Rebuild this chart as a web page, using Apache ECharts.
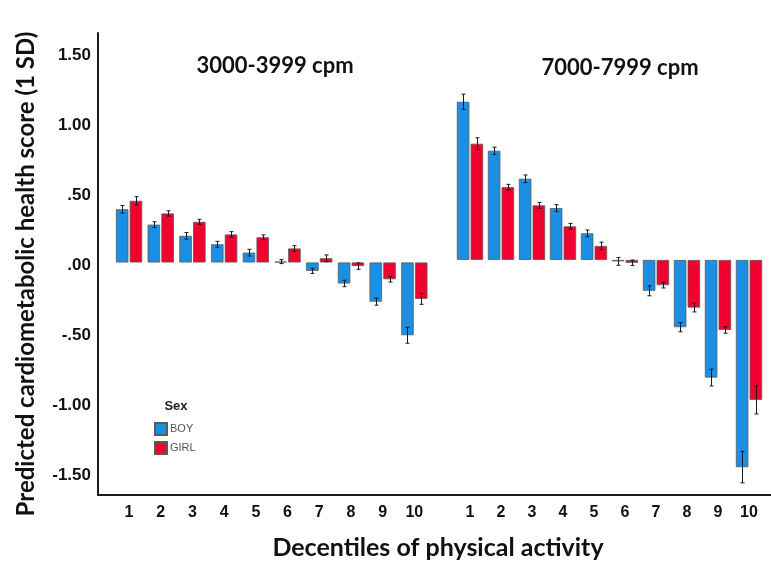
<!DOCTYPE html>
<html><head><meta charset="utf-8">
<script src="https://cdn.jsdelivr.net/npm/echarts@6/dist/echarts.min.js"></script>
<style>html,body{margin:0;padding:0;background:#fff}#c{width:771px;height:564px}</style>
</head><body><div id="c"></div>
<script>
const categories = ['1','2','3','4','5','6','7','8','9','10'];
const yTicks = [-1.5, -1, -0.5, 0, 0.5, 1, 1.5];
const lowBoy = [0.38, 0.27, 0.19, 0.13, 0.07, 0.006, -0.06, -0.15, -0.28, -0.52];
const lowGirl = [0.44, 0.35, 0.29, 0.20, 0.18, 0.10, 0.03, -0.026, -0.12, -0.26];
const lowBoyErr = [0.027, 0.021, 0.024, 0.021, 0.024, 0.014, 0.018, 0.023, 0.025, 0.057];
const lowGirlErr = [0.030, 0.019, 0.018, 0.020, 0.017, 0.020, 0.024, 0.023, 0.020, 0.039];
const highBoy = [1.13, 0.78, 0.58, 0.37, 0.19, -0.01, -0.22, -0.48, -0.84, -1.48];
const highGirl = [0.83, 0.52, 0.39, 0.24, 0.10, -0.02, -0.18, -0.34, -0.50, -1.00];
const highBoyErr = [0.054, 0.026, 0.027, 0.025, 0.024, 0.028, 0.036, 0.033, 0.060, 0.112];
const highGirlErr = [0.043, 0.020, 0.020, 0.021, 0.027, 0.019, 0.020, 0.031, 0.023, 0.100];

const BLUE = '#1a8fe3', RED = '#f2002f';
const Y_MIN = -1.661, Y_MAX = 1.639;
const BAR_W = 12.5, HALF = (BAR_W + BAR_W * 0.1) / 2;
const TICK_FONT = 'Liberation Sans, Arial, sans-serif';
const TITLE_FONT = 'Lato, sans-serif';

function barSeries(name, vals, idx, color) {
  return {
    type: 'bar', name: name, xAxisIndex: idx, yAxisIndex: idx, data: vals,
    barWidth: BAR_W, barGap: '10%',
    itemStyle: { color: color, borderColor: '#5a5a5a', borderWidth: 0.8 }
  };
}
function errSeries(vals, errs, idx, offset) {
  return {
    type: 'custom', xAxisIndex: idx, yAxisIndex: idx, z: 10, silent: true,
    data: vals.map((v, i) => [i, v, errs[i]]),
    encode: { x: 0, y: 1 },
    renderItem: function (params, api) {
      const i = api.value(0), v = api.value(1), e = api.value(2);
      const t = api.coord([i, v + e]), b = api.coord([i, v - e]);
      const x = Math.round(t[0] + offset) + 0.5;
      const cap = 2;
      const st = { stroke: '#1a1a1a', lineWidth: 1 };
      return { type: 'group', children: [
        { type: 'line', shape: { x1: x, y1: t[1], x2: x, y2: b[1] }, style: st },
        { type: 'line', shape: { x1: x - cap, y1: t[1], x2: x + cap, y2: t[1] }, style: st },
        { type: 'line', shape: { x1: x - cap, y1: b[1], x2: x + cap, y2: b[1] }, style: st }
      ]};
    }
  };
}
function fmt(v) {
  let s = Math.abs(v).toFixed(2);
  if (s.charAt(0) === '0') s = s.slice(1);
  return '{a|' + (v < 0 ? '-' : '') + s + '}';
}

const catAxis = (idx, margin) => ({
  gridIndex: idx, type: 'category', data: categories,
  axisLine: { show: false, onZero: false }, axisTick: { show: false },
  axisLabel: { margin: margin, fontFamily: TICK_FONT, fontWeight: 'bold', fontSize: 16, color: '#111' }
});
const hiddenY = (idx) => ({ gridIndex: idx, type: 'value', min: Y_MIN, max: Y_MAX, show: false, splitLine: { show: false } });

const chart = echarts.init(document.getElementById('c'), null, { renderer: 'canvas' });
chart.setOption({
  animation: false,
  backgroundColor: '#fff',
  title: [
    { text: '3000-3999 cpm', left: 275, top: 55, textAlign: 'center', padding: 0,
      textStyle: { fontFamily: TITLE_FONT, fontWeight: 'bold', fontSize: 22, color: '#111' } },
    { text: '7000-7999 cpm', left: 620, top: 57, textAlign: 'center', padding: 0,
      textStyle: { fontFamily: TITLE_FONT, fontWeight: 'bold', fontSize: 22, color: '#111' } },
    { text: 'Sex', left: 176, top: 400, textAlign: 'center', padding: 0,
      textStyle: { fontFamily: TICK_FONT, fontWeight: 'bold', fontSize: 13, color: '#222' } }
  ],
  legend: {
    orient: 'vertical', left: 154, top: 422, itemWidth: 12, itemHeight: 12, itemGap: 5,
    padding: 0, icon: 'rect', data: ['BOY', 'GIRL'], selectedMode: false,
    textStyle: { fontFamily: TICK_FONT, fontSize: 11, color: '#555', padding: [0, 0, 0, -2] }
  },
  grid: [
    { left: 98, top: 33, right: 0, height: 462, outerBoundsMode: 'none' },
    { left: 113.2, top: 33, width: 317, height: 462, outerBoundsMode: 'none' },
    { left: 454.5, top: 30.5, width: 310, height: 462, outerBoundsMode: 'none' }
  ],
  xAxis: [
    { gridIndex: 0, type: 'value', min: 0, max: 1,
      axisLine: { show: true, onZero: false, lineStyle: { color: '#1a1a1a', width: 2 } },
      axisTick: { show: false }, axisLabel: { show: false }, splitLine: { show: false },
      name: 'Decentiles of physical activity', nameLocation: 'middle', nameGap: 40,
      nameTextStyle: { fontFamily: TITLE_FONT, fontWeight: 'bold', fontSize: 25, color: '#111', padding: [0, 0, 0, 7] } },
    catAxis(1, 10),
    catAxis(2, 12.5)
  ],
  yAxis: [
    { gridIndex: 0, type: 'value', min: Y_MIN, max: Y_MAX,
      axisLine: { show: true, onZero: false, lineStyle: { color: '#1a1a1a', width: 2 } },
      axisTick: { show: false }, splitLine: { show: false },
      axisLabel: { customValues: yTicks, formatter: fmt, margin: 7,
        fontFamily: TICK_FONT, fontWeight: 'bold', fontSize: 17, color: '#111',
        rich: { a: { fontFamily: TICK_FONT, fontWeight: 'bold', fontSize: 17, color: '#111', padding: [6, 0, 0, 0] } } },
      name: 'Predicted cardiometabolic health score (1 SD)', nameLocation: 'middle',
      nameGap: 60, nameRotate: 90,
      nameTextStyle: { fontFamily: TITLE_FONT, fontWeight: 'bold', fontSize: 24, color: '#111', padding: [0, 20, 0, 0] } },
    hiddenY(1),
    hiddenY(2)
  ],
  series: [
    barSeries('BOY', lowBoy, 1, BLUE),
    barSeries('GIRL', lowGirl, 1, RED),
    barSeries('BOY', highBoy, 2, BLUE),
    barSeries('GIRL', highGirl, 2, RED),
    errSeries(lowBoy, lowBoyErr, 1, -HALF),
    errSeries(lowGirl, lowGirlErr, 1, HALF),
    errSeries(highBoy, highBoyErr, 2, -HALF),
    errSeries(highGirl, highGirlErr, 2, HALF)
  ]
});
</script>
</body></html>
